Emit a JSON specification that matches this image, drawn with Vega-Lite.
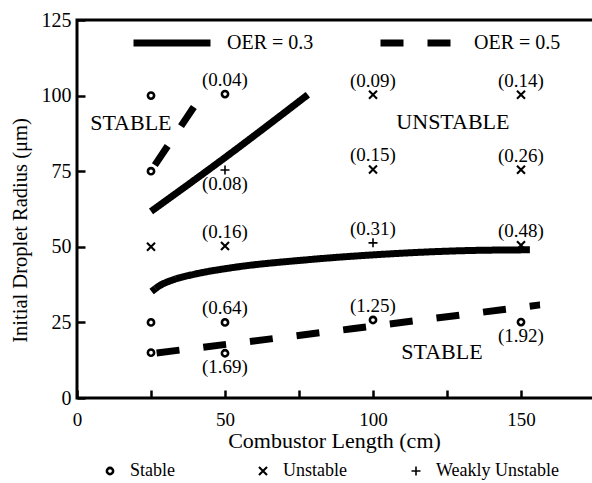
{
  "$schema": "https://vega.github.io/schema/vega-lite/v6.json",
  "width": 518,
  "height": 378,
  "autosize": {"type": "none"},
  "padding": {"left": 77, "top": 20, "right": 0, "bottom": 85},
  "background": "white",
  "config": {
    "view": {"stroke": "black", "strokeWidth": 3},
    "font": "Liberation Serif",
    "axis": {"labelColor": "black", "titleColor": "black", "domainColor": "black", "tickColor": "black", "titleFontWeight": "normal", "labelFont": "Liberation Serif", "titleFont": "Liberation Serif", "grid": false, "zindex": 1},
    "legend": {"labelFont": "Liberation Serif", "labelColor": "black"}
  },
  "datasets": {
    "lines": [
      {"seg": "a", "oer": "OER = 0.3", "x": 25, "y": 61.7},
      {"seg": "a", "oer": "OER = 0.3", "x": 50, "y": 79.5},
      {"seg": "a", "oer": "OER = 0.3", "x": 78, "y": 100.3},
      {"seg": "b", "oer": "OER = 0.3", "x": 25.2, "y": 35.2},
      {"seg": "b", "oer": "OER = 0.3", "x": 28, "y": 37.2},
      {"seg": "b", "oer": "OER = 0.3", "x": 32.5, "y": 39.1},
      {"seg": "b", "oer": "OER = 0.3", "x": 40, "y": 41},
      {"seg": "b", "oer": "OER = 0.3", "x": 51.7, "y": 43},
      {"seg": "b", "oer": "OER = 0.3", "x": 77.6, "y": 45.7},
      {"seg": "b", "oer": "OER = 0.3", "x": 101.2, "y": 47.4},
      {"seg": "b", "oer": "OER = 0.3", "x": 133.9, "y": 48.8},
      {"seg": "b", "oer": "OER = 0.3", "x": 153, "y": 49},
      {"seg": "c", "oer": "OER = 0.5", "x": 26.3, "y": 77},
      {"seg": "c", "oer": "OER = 0.5", "x": 40, "y": 97},
      {"seg": "d", "oer": "OER = 0.5", "x": 26.9, "y": 14.9},
      {"seg": "d", "oer": "OER = 0.5", "x": 92.9, "y": 22.9},
      {"seg": "d", "oer": "OER = 0.5", "x": 156.4, "y": 30.8}
    ],
    "points": [
      {"x": 25, "y": 100, "status": "Stable", "label": "", "pos": "none"},
      {"x": 25, "y": 75, "status": "Stable", "label": "", "pos": "none"},
      {"x": 25, "y": 50, "status": "Unstable", "label": "", "pos": "none"},
      {"x": 25, "y": 25, "status": "Stable", "label": "", "pos": "none"},
      {"x": 25, "y": 15, "status": "Stable", "label": "", "pos": "none"},
      {"x": 50, "y": 100.5, "status": "Stable", "label": "(0.04)", "pos": "above"},
      {"x": 50, "y": 75.4, "status": "Weakly Unstable", "label": "(0.08)", "pos": "below"},
      {"x": 50, "y": 50.3, "status": "Unstable", "label": "(0.16)", "pos": "above"},
      {"x": 50, "y": 25, "status": "Stable", "label": "(0.64)", "pos": "above"},
      {"x": 50, "y": 14.8, "status": "Stable", "label": "(1.69)", "pos": "below"},
      {"x": 100, "y": 100.3, "status": "Unstable", "label": "(0.09)", "pos": "above"},
      {"x": 100, "y": 75.6, "status": "Unstable", "label": "(0.15)", "pos": "above"},
      {"x": 100, "y": 51.3, "status": "Weakly Unstable", "label": "(0.31)", "pos": "above"},
      {"x": 100, "y": 25.8, "status": "Stable", "label": "(1.25)", "pos": "above"},
      {"x": 150, "y": 100.3, "status": "Unstable", "label": "(0.14)", "pos": "above"},
      {"x": 150, "y": 75.5, "status": "Unstable", "label": "(0.26)", "pos": "above"},
      {"x": 150, "y": 50.5, "status": "Unstable", "label": "(0.48)", "pos": "above"},
      {"x": 150, "y": 25.1, "status": "Stable", "label": "(1.92)", "pos": "below"}
    ],
    "regions": [
      {"x": 18.2, "y": 91, "text": "STABLE"},
      {"x": 127, "y": 91.3, "text": "UNSTABLE"},
      {"x": 123.3, "y": 15.2, "text": "STABLE"}
    ]
  },
  "encoding": {
    "x": {
      "field": "x", "type": "quantitative",
      "scale": {"domain": [0, 175], "nice": false, "zero": false},
      "axis": {
        "orient": "bottom",
        "title": "Combustor Length (cm)",
        "values": [0, 25, 50, 75, 100, 125, 150, 175],
        "labelExpr": "datum.value % 50 === 0 ? datum.label : ''",
        "offset": -8, "domain": false, "ticks": true, "tickSize": 8, "tickWidth": 2.5,
        "labelFontSize": 19, "labelPadding": 12, "labelFlush": false, "labelOverlap": false,
        "titleFontSize": 22, "titleX": 257, "titleY": 50, "titleBaseline": "middle", "titleAnchor": "middle", "titleAlign": "center"
      }
    },
    "y": {
      "field": "y", "type": "quantitative",
      "scale": {"domain": [0, 125], "nice": false, "zero": false},
      "axis": {
        "orient": "left",
        "title": "Initial Droplet Radius (μm)",
        "values": [0, 25, 50, 75, 100, 125],
        "offset": -8, "domain": false, "ticks": true, "tickSize": 8, "tickWidth": 2.5,
        "labelFontSize": 20, "labelPadding": 6, "labelFlush": false, "labelOverlap": false,
        "titleFontSize": 20.5, "titleAngle": 270, "titleX": -65, "titleY": 210, "titleBaseline": "middle", "titleAlign": "center"
      }
    }
  },
  "layer": [
    {
      "data": {"name": "lines"},
      "mark": {"type": "line", "color": "black", "strokeWidth": 7, "interpolate": "monotone", "strokeCap": "butt"},
      "encoding": {
        "detail": {"field": "seg", "type": "nominal"},
        "strokeDash": {
          "field": "oer", "type": "nominal",
          "scale": {"domain": ["OER = 0.3", "OER = 0.5"], "range": [[1, 0], [23, 24]]},
          "legend": {
            "title": null, "orient": "none", "direction": "horizontal",
            "legendX": 53, "legendY": -19,
            "symbolType": "stroke", "symbolSize": 5929, "symbolStrokeWidth": 7, "symbolStrokeColor": "black",
            "labelFontSize": 20, "labelOffset": 13, "columnPadding": 52,
            "encode": {"symbols": {"update": {"strokeDash": {"signal": "datum.value === 'OER = 0.5' ? [27, 20] : [1, 0]"}, "stroke": {"value": "black"}, "strokeWidth": {"value": 7}}}}
          }
        }
      }
    },
    {
      "data": {"name": "points"},
      "mark": {"type": "point", "filled": false, "color": "black", "size": 100, "opacity": 1},
      "encoding": {
        "shape": {
          "field": "status", "type": "nominal",
          "scale": {"domain": ["Stable", "Unstable", "Weakly Unstable"], "range": ["M0.62,0A0.62,0.62,0,1,1,-0.62,0A0.62,0.62,0,1,1,0.62,0Z", "M-0.8,-0.8L0.8,0.8M-0.8,0.8L0.8,-0.8", "M-0.9,0L0.9,0M0,-0.9L0,0.9"]},
          "legend": {
            "title": null, "orient": "none", "direction": "horizontal", "columns": 3,
            "legendX": 24, "legendY": 442, "gridAlign": "all",
            "symbolSize": 100, "symbolStrokeColor": "black", "symbolFillColor": "transparent",
            "labelFontSize": 18, "labelOffset": 11, "columnPadding": 0,
            "encode": {"symbols": {"update": {"strokeWidth": {"signal": "datum.value === 'Stable' ? 3 : 1.6"}, "stroke": {"value": "black"}, "opacity": {"value": 1}}}}
          }
        },
        "strokeWidth": {
          "field": "status", "type": "ordinal",
          "scale": {"domain": ["Stable", "Unstable", "Weakly Unstable"], "range": [2.6, 1.6, 1.4]},
          "legend": null
        }
      }
    },
    {
      "data": {"name": "points"},
      "transform": [{"filter": "datum.pos === 'above'"}],
      "mark": {"type": "text", "font": "Liberation Serif", "fontSize": 19, "color": "black", "baseline": "middle", "align": "center", "dy": -14},
      "encoding": {"text": {"field": "label"}}
    },
    {
      "data": {"name": "points"},
      "transform": [{"filter": "datum.pos === 'below'"}],
      "mark": {"type": "text", "font": "Liberation Serif", "fontSize": 19, "color": "black", "baseline": "middle", "align": "center", "dy": 14},
      "encoding": {"text": {"field": "label"}}
    },
    {
      "data": {"name": "regions"},
      "mark": {"type": "text", "font": "Liberation Serif", "fontSize": 22, "color": "black", "baseline": "middle", "align": "center"},
      "encoding": {"text": {"field": "text"}}
    }
  ]
}
